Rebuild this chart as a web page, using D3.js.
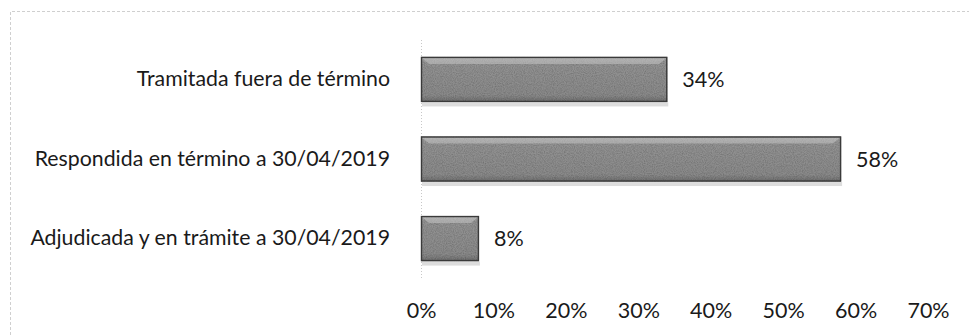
<!DOCTYPE html>
<html>
<head>
<meta charset="utf-8">
<script src="https://cdn.jsdelivr.net/npm/d3@7"></script>
<style>
  html, body { margin: 0; padding: 0; background: #fff; }
  svg { display: block; }
  text { font-family: Lato, "Open Sans", sans-serif; fill: #1a1a1a; }
</style>
</head>
<body>
<svg id="chart" width="969" height="335"></svg>
<script>
// Categories, top to bottom
const categories = [
  "Tramitada fuera de término",
  "Respondida en término a 30/04/2019",
  "Adjudicada y en trámite a 30/04/2019"
];
// Share of each category
const values = [0.34, 0.58, 0.08];
// Axis ticks
const ticks = [0, 0.1, 0.2, 0.3, 0.4, 0.5, 0.6, 0.7];

const svg = d3.select("#chart");
const W = 969, H = 335;
const FONT = "Lato, 'Open Sans', sans-serif";

const x = d3.scaleLinear().domain([0, 0.7]).range([421, 928]);
const y = d3.scaleBand().domain(categories).range([41, 277]).paddingInner(0.434).paddingOuter(0.2);

const defs = svg.append("defs");
const grad = defs.append("linearGradient").attr("id", "barFill").attr("x1", 0).attr("y1", 0).attr("x2", 0).attr("y2", 1);
grad.append("stop").attr("offset", "0%").attr("stop-color", "#a8a8a8");
grad.append("stop").attr("offset", "12%").attr("stop-color", "#939393");
grad.append("stop").attr("offset", "85%").attr("stop-color", "#8a8a8a");
grad.append("stop").attr("offset", "100%").attr("stop-color", "#6e6e6e");

// Grain on the bars
const grain = defs.append("filter").attr("id", "grain").attr("x", 0).attr("y", 0).attr("width", 1).attr("height", 1);
grain.append("feTurbulence").attr("type", "fractalNoise").attr("baseFrequency", 0.9).attr("numOctaves", 2).attr("seed", 3).attr("result", "noise");
grain.append("feColorMatrix").attr("in", "noise").attr("type", "matrix")
  .attr("values", "0 0 0 0 0  0 0 0 0 0  0 0 0 0 0  0 0 0 -1.6 1.1").attr("result", "dots");
grain.append("feComposite").attr("in", "dots").attr("in2", "SourceGraphic").attr("operator", "in").attr("result", "dotsIn");
grain.append("feComponentTransfer").attr("in", "dotsIn").attr("result", "dotsSoft")
  .append("feFuncA").attr("type", "linear").attr("slope", 0.4);
const merge = grain.append("feMerge");
merge.append("feMergeNode").attr("in", "SourceGraphic");
merge.append("feMergeNode").attr("in", "dotsSoft");

// Faint frame edges (top and left)
svg.append("path")
  .attr("d", `M10.5,${H} L10.5,11.5 L${W},11.5`)
  .attr("fill", "none").attr("stroke", "#cfcfcf").attr("stroke-width", 1)
  .attr("stroke-dasharray", "3,2");

// Category axis line
svg.append("line")
  .attr("x1", x(0) + 0.5).attr("x2", x(0) + 0.5)
  .attr("y1", 40).attr("y2", 280)
  .attr("stroke", "#c8c8c8").attr("stroke-dasharray", "1,2");

const data = categories.map((c, i) => ({ c, v: values[i] }));

const bars = svg.append("g").selectAll("g").data(data).join("g");

// Soft shadow under each bar
bars.append("rect")
  .attr("x", x(0) + 1).attr("y", d => y(d.c) + y.bandwidth() + 0.5)
  .attr("width", d => x(d.v) - x(0)).attr("height", 4)
  .attr("fill", "#d4d4d4").attr("opacity", 0.8);

bars.append("rect")
  .attr("x", x(0)).attr("y", d => y(d.c))
  .attr("width", d => x(d.v) - x(0)).attr("height", y.bandwidth())
  .attr("fill", "url(#barFill)")
  .attr("filter", "url(#grain)");

// Bevel highlight along the top edge
bars.append("path")
  .attr("d", d => {
    const x0 = x(0), x1 = x(d.v), y0 = y(d.c);
    return `M${x0 + 1},${y0 + 1} L${x1 - 1},${y0 + 1} L${x1 - 8},${y0 + 7} L${x0 + 8},${y0 + 7} Z`;
  })
  .attr("fill", "#c4c4c4").attr("opacity", 0.55);

bars.append("rect")
  .attr("x", x(0) + 0.5).attr("y", d => y(d.c) + 0.5)
  .attr("width", d => x(d.v) - x(0) - 1).attr("height", y.bandwidth() - 1)
  .attr("fill", "none").attr("stroke", "#3a3a3a").attr("stroke-width", 1.4);

// Value labels
bars.append("text")
  .attr("x", d => x(d.v) + 15)
  .attr("y", d => y(d.c) + y.bandwidth() / 2)
  .attr("dy", "0.35em")
  .attr("font-size", 21.5)
  .text(d => Math.round(d.v * 100) + "%");

// Category labels
const yAxis = d3.axisLeft(y).tickSize(0).tickPadding(31);
const gy = svg.append("g").attr("transform", `translate(${x(0)},0)`).call(yAxis);
gy.select(".domain").remove();
gy.selectAll("text").attr("font-size", 21.3).style("font-family", FONT).attr("fill", "#1a1a1a");

// Percentage axis
const xAxis = d3.axisBottom(x).tickValues(ticks).tickFormat(d3.format(".0%")).tickSize(0).tickPadding(0);
const gx = svg.append("g").attr("transform", `translate(0,${H - 25})`).call(xAxis);
gx.select(".domain").remove();
gx.selectAll("text").attr("font-size", 21.5).attr("dy", "0.35em").style("font-family", FONT).attr("fill", "#1a1a1a");
</script>
</body>
</html>
